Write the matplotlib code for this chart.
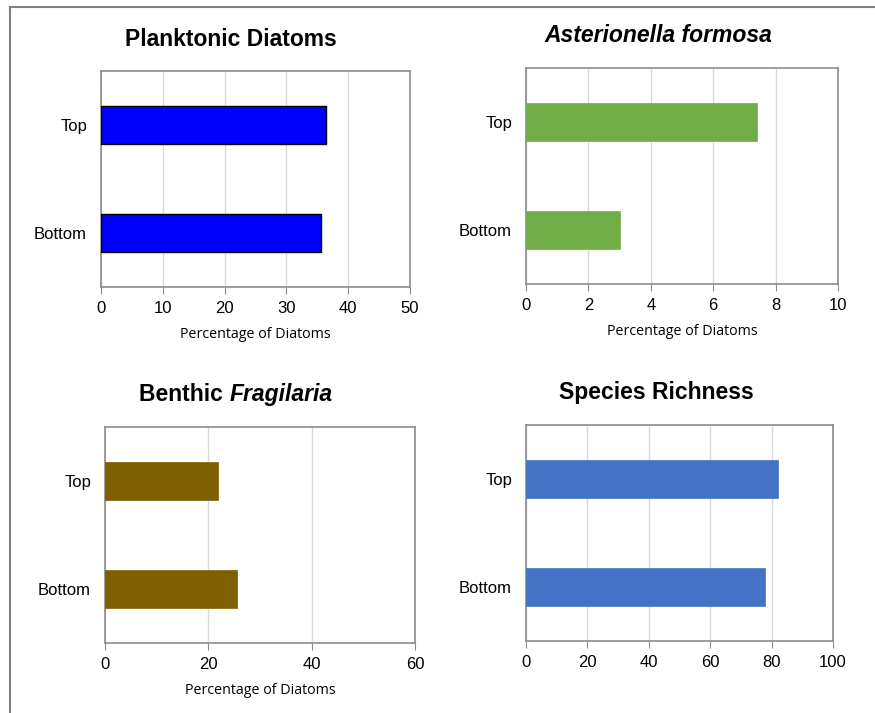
import matplotlib.pyplot as plt
from matplotlib.lines import Line2D

# Data
categories = ["Bottom", "Top"]
planktonic = [35.6, 36.4]
asterionella = [3.0, 7.4]
fragilaria = [25.5, 21.9]
richness = [78, 82]

W, H = 875, 713
fig = plt.figure(figsize=(W / 100, H / 100), dpi=100)
plt.rcParams["font.family"] = ["Liberation Sans", "DejaVu Sans"]


def px_axes(left, top, right, bottom):
    return fig.add_axes([left / W, 1 - bottom / H, (right - left) / W, (bottom - top) / H])


def style(ax, values, color, xmax, step, edge=None, xlabel=True):
    ax.barh(range(len(categories)), values, height=0.35, color=color,
            edgecolor=edge if edge else color, linewidth=1 if edge else 0.5, zorder=3)
    ax.set_ylim(-0.5, 1.5)
    ax.set_xlim(0, xmax)
    ax.set_xticks(range(0, xmax + 1, step))
    ax.set_yticks(range(len(categories)))
    ax.set_yticklabels(categories)
    ax.grid(axis="x", color="#d9d9d9", linewidth=1, zorder=0)
    for s in ax.spines.values():
        s.set_color("#8c8c8c")
        s.set_linewidth(1.2)
    ax.tick_params(axis="x", length=5, color="#8c8c8c", labelsize=12, pad=5)
    ax.tick_params(axis="y", length=0, labelsize=12, pad=10)
    if xlabel:
        ax.set_xlabel("Percentage of Diatoms", fontsize=10.3, family="Open Sans", labelpad=8)


def title_at(cx, cy, parts):
    # parts: list of (text, fontstyle); drawn side by side and centred on (cx, cy)
    texts = [fig.text(0, 1 - cy / H, s, fontsize=16.5, fontweight="bold", style=st, va="center")
             for s, st in parts]
    fig.canvas.draw()
    r = fig.canvas.get_renderer()
    widths = [t.get_window_extent(r).width for t in texts]
    x = cx - sum(widths) / 2
    for t, w in zip(texts, widths):
        t.set_x(x / W)
        x += w


ax1 = px_axes(101, 71, 410, 287)
style(ax1, planktonic, "#0000ff", 50, 10, edge="black")

ax2 = px_axes(526, 68, 838, 284)
style(ax2, asterionella, "#70ad47", 10, 2)

ax3 = px_axes(105, 427, 415, 643)
style(ax3, fragilaria, "#7f6000", 60, 20)

ax4 = px_axes(526, 425, 833, 641)
style(ax4, richness, "#4472c4", 100, 20, xlabel=False)

title_at(231, 39, [("Planktonic Diatoms", "normal")])
title_at(658, 35, [("Asterionella formosa", "italic")])
title_at(236, 394, [("Benthic ", "normal"), ("Fragilaria", "italic")])
title_at(656, 392, [("Species Richness", "normal")])

# outer frame (top and left edges visible)
fig.add_artist(Line2D([10 / W, 1], [1 - 7 / H, 1 - 7 / H], color="#808080", lw=1.5))
fig.add_artist(Line2D([10 / W, 10 / W], [0, 1 - 7 / H], color="#808080", lw=1.5))

fig.savefig("out.png", dpi=100)
